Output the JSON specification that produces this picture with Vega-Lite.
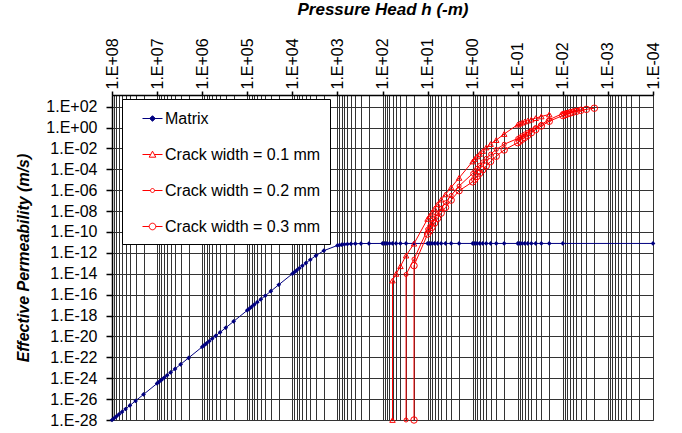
{
"$schema": "https://vega.github.io/schema/vega-lite/v6.json",
"width": 541, "height": 325,
"autosize": {"type": "none"},
"padding": {"left": 112, "top": 95, "right": 29, "bottom": 13},
"background": "white",
"config": {"view": {"stroke": "#808080", "strokeWidth": 1}, "font": "Liberation Sans",
  "axis": {"labelFont": "Liberation Sans", "titleFont": "Liberation Sans", "labelColor": "black", "titleColor": "black"}},
"data": {"values": [
{"series":"Matrix","h":1e8,"K":1e-28},{"series":"Matrix","h":9e7,"K":1.445e-28},{"series":"Matrix","h":8e7,"K":2.18e-28},{"series":"Matrix","h":7e7,"K":3.48e-28},{"series":"Matrix","h":6e7,"K":5.97e-28},{"series":"Matrix","h":5e7,"K":1.132e-27},{"series":"Matrix","h":4e7,"K":2.47e-27},{"series":"Matrix","h":3e7,"K":6.77e-27},{"series":"Matrix","h":2e7,"K":2.79e-26},
{"series":"Matrix","h":1e7,"K":3.16e-25},{"series":"Matrix","h":9e6,"K":4.57e-25},{"series":"Matrix","h":8e6,"K":6.9e-25},{"series":"Matrix","h":7e6,"K":1.1e-24},{"series":"Matrix","h":6e6,"K":1.89e-24},{"series":"Matrix","h":5e6,"K":3.58e-24},{"series":"Matrix","h":4e6,"K":7.82e-24},{"series":"Matrix","h":3e6,"K":2.14e-23},{"series":"Matrix","h":2e6,"K":8.84e-23},
{"series":"Matrix","h":1e6,"K":1e-21},{"series":"Matrix","h":9e5,"K":1.445e-21},{"series":"Matrix","h":8e5,"K":2.18e-21},{"series":"Matrix","h":7e5,"K":3.48e-21},{"series":"Matrix","h":6e5,"K":5.97e-21},{"series":"Matrix","h":5e5,"K":1.132e-20},{"series":"Matrix","h":4e5,"K":2.47e-20},{"series":"Matrix","h":3e5,"K":6.77e-20},{"series":"Matrix","h":2e5,"K":2.79e-19},
{"series":"Matrix","h":1e5,"K":3.16e-18},{"series":"Matrix","h":9e4,"K":4.57e-18},{"series":"Matrix","h":8e4,"K":6.9e-18},{"series":"Matrix","h":7e4,"K":1.1e-17},{"series":"Matrix","h":6e4,"K":1.89e-17},{"series":"Matrix","h":5e4,"K":3.58e-17},{"series":"Matrix","h":4e4,"K":7.82e-17},{"series":"Matrix","h":3e4,"K":2.14e-16},{"series":"Matrix","h":2e4,"K":8.83e-16},
{"series":"Matrix","h":1e4,"K":9.89e-15},{"series":"Matrix","h":9e3,"K":1.425e-14},{"series":"Matrix","h":8e3,"K":2.14e-14},{"series":"Matrix","h":7e3,"K":3.39e-14},{"series":"Matrix","h":6e3,"K":5.73e-14},{"series":"Matrix","h":5e3,"K":1.06e-13},{"series":"Matrix","h":4e3,"K":2.21e-13},{"series":"Matrix","h":3e3,"K":5.42e-13},{"series":"Matrix","h":2e3,"K":1.63e-12},
{"series":"Matrix","h":1e3,"K":5.12e-12},{"series":"Matrix","h":900,"K":5.61e-12},{"series":"Matrix","h":800,"K":6.09e-12},{"series":"Matrix","h":700,"K":6.55e-12},{"series":"Matrix","h":600,"K":6.95e-12},{"series":"Matrix","h":500,"K":7.31e-12},{"series":"Matrix","h":400,"K":7.59e-12},{"series":"Matrix","h":300,"K":7.8e-12},{"series":"Matrix","h":200,"K":7.92e-12},
{"series":"Matrix","h":100,"K":7.99e-12},{"series":"Matrix","h":90,"K":8e-12},{"series":"Matrix","h":80,"K":8e-12},{"series":"Matrix","h":70,"K":8e-12},{"series":"Matrix","h":60,"K":8e-12},{"series":"Matrix","h":50,"K":8e-12},{"series":"Matrix","h":40,"K":8e-12},{"series":"Matrix","h":30,"K":8e-12},{"series":"Matrix","h":20,"K":8e-12},
{"series":"Matrix","h":10,"K":8e-12},{"series":"Matrix","h":9,"K":8e-12},{"series":"Matrix","h":8,"K":8e-12},{"series":"Matrix","h":7,"K":8e-12},{"series":"Matrix","h":6,"K":8e-12},{"series":"Matrix","h":5,"K":8e-12},{"series":"Matrix","h":4,"K":8e-12},{"series":"Matrix","h":3,"K":8e-12},{"series":"Matrix","h":2,"K":8e-12},
{"series":"Matrix","h":1,"K":8e-12},{"series":"Matrix","h":0.9,"K":8e-12},{"series":"Matrix","h":0.8,"K":8e-12},{"series":"Matrix","h":0.7,"K":8e-12},{"series":"Matrix","h":0.6,"K":8e-12},{"series":"Matrix","h":0.5,"K":8e-12},{"series":"Matrix","h":0.4,"K":8e-12},{"series":"Matrix","h":0.3,"K":8e-12},{"series":"Matrix","h":0.2,"K":8e-12},
{"series":"Matrix","h":0.1,"K":8e-12},{"series":"Matrix","h":0.09,"K":8e-12},{"series":"Matrix","h":0.08,"K":8e-12},{"series":"Matrix","h":0.07,"K":8e-12},{"series":"Matrix","h":0.06,"K":8e-12},{"series":"Matrix","h":0.05,"K":8e-12},{"series":"Matrix","h":0.04,"K":8e-12},{"series":"Matrix","h":0.03,"K":8e-12},{"series":"Matrix","h":0.02,"K":8e-12},
{"series":"Matrix","h":0.01,"K":8e-12},{"series":"Matrix","h":0.0001,"K":8e-12},

{"series":"Crack width = 0.1 mm","h":60,"K":1e-28},{"series":"Crack width = 0.1 mm","h":60,"K":2.24e-15},{"series":"Crack width = 0.1 mm","h":50,"K":9.77e-15},{"series":"Crack width = 0.1 mm","h":40,"K":5.25e-14},{"series":"Crack width = 0.1 mm","h":30,"K":5.5e-13},{"series":"Crack width = 0.1 mm","h":20,"K":7.59e-12},
{"series":"Crack width = 0.1 mm","h":10,"K":1.78e-9},{"series":"Crack width = 0.1 mm","h":9,"K":3.39e-9},{"series":"Crack width = 0.1 mm","h":8,"K":7.24e-9},{"series":"Crack width = 0.1 mm","h":7,"K":1.74e-8},{"series":"Crack width = 0.1 mm","h":6,"K":4.47e-8},{"series":"Crack width = 0.1 mm","h":5,"K":1.26e-7},{"series":"Crack width = 0.1 mm","h":4,"K":3.98e-7},{"series":"Crack width = 0.1 mm","h":3,"K":1.86e-6},{"series":"Crack width = 0.1 mm","h":2,"K":1.51e-5},
{"series":"Crack width = 0.1 mm","h":1,"K":5.62e-4},{"series":"Crack width = 0.1 mm","h":0.9,"K":9.77e-4},{"series":"Crack width = 0.1 mm","h":0.8,"K":1.7e-3},{"series":"Crack width = 0.1 mm","h":0.7,"K":2.95e-3},{"series":"Crack width = 0.1 mm","h":0.6,"K":5.62e-3},{"series":"Crack width = 0.1 mm","h":0.5,"K":1.23e-2},{"series":"Crack width = 0.1 mm","h":0.4,"K":2.63e-2},{"series":"Crack width = 0.1 mm","h":0.3,"K":6.31e-2},{"series":"Crack width = 0.1 mm","h":0.2,"K":0.24},
{"series":"Crack width = 0.1 mm","h":0.1,"K":1.91},{"series":"Crack width = 0.1 mm","h":0.09,"K":2.4},{"series":"Crack width = 0.1 mm","h":0.08,"K":2.95},{"series":"Crack width = 0.1 mm","h":0.07,"K":3.72},{"series":"Crack width = 0.1 mm","h":0.06,"K":4.57},{"series":"Crack width = 0.1 mm","h":0.05,"K":5.75},{"series":"Crack width = 0.1 mm","h":0.04,"K":7.94},{"series":"Crack width = 0.1 mm","h":0.03,"K":11.5},{"series":"Crack width = 0.1 mm","h":0.02,"K":17.8},

{"series":"Crack width = 0.2 mm","h":30,"K":1e-28},{"series":"Crack width = 0.2 mm","h":30,"K":8.51e-15},{"series":"Crack width = 0.2 mm","h":20,"K":2.51e-13},
{"series":"Crack width = 0.2 mm","h":10,"K":1.78e-10},{"series":"Crack width = 0.2 mm","h":9,"K":3.55e-10},{"series":"Crack width = 0.2 mm","h":8,"K":7.94e-10},{"series":"Crack width = 0.2 mm","h":7,"K":2.0e-9},{"series":"Crack width = 0.2 mm","h":6,"K":5.62e-9},{"series":"Crack width = 0.2 mm","h":5,"K":1.78e-8},{"series":"Crack width = 0.2 mm","h":4,"K":6.31e-8},{"series":"Crack width = 0.2 mm","h":3,"K":3.16e-7},{"series":"Crack width = 0.2 mm","h":2,"K":2.51e-6},
{"series":"Crack width = 0.2 mm","h":1,"K":3.98e-5},{"series":"Crack width = 0.2 mm","h":0.9,"K":7.08e-5},{"series":"Crack width = 0.2 mm","h":0.8,"K":1.26e-4},{"series":"Crack width = 0.2 mm","h":0.7,"K":2.4e-4},{"series":"Crack width = 0.2 mm","h":0.6,"K":5.01e-4},{"series":"Crack width = 0.2 mm","h":0.5,"K":1.12e-3},{"series":"Crack width = 0.2 mm","h":0.4,"K":2.82e-3},{"series":"Crack width = 0.2 mm","h":0.3,"K":7.94e-3},{"series":"Crack width = 0.2 mm","h":0.2,"K":2.51e-2},
{"series":"Crack width = 0.2 mm","h":0.1,"K":8.91e-2},{"series":"Crack width = 0.2 mm","h":0.09,"K":0.12},{"series":"Crack width = 0.2 mm","h":0.08,"K":0.166},{"series":"Crack width = 0.2 mm","h":0.07,"K":0.24},{"series":"Crack width = 0.2 mm","h":0.06,"K":0.355},{"series":"Crack width = 0.2 mm","h":0.05,"K":0.562},{"series":"Crack width = 0.2 mm","h":0.04,"K":1.0},{"series":"Crack width = 0.2 mm","h":0.03,"K":2.0},{"series":"Crack width = 0.2 mm","h":0.02,"K":5.62},
{"series":"Crack width = 0.2 mm","h":0.01,"K":22.4},{"series":"Crack width = 0.2 mm","h":0.009,"K":25.1},{"series":"Crack width = 0.2 mm","h":0.008,"K":28.8},{"series":"Crack width = 0.2 mm","h":0.007,"K":33.1},{"series":"Crack width = 0.2 mm","h":0.006,"K":38.0},{"series":"Crack width = 0.2 mm","h":0.005,"K":44.7},{"series":"Crack width = 0.2 mm","h":0.004,"K":52.5},

{"series":"Crack width = 0.3 mm","h":20,"K":1e-28},{"series":"Crack width = 0.3 mm","h":20,"K":6.03e-14},
{"series":"Crack width = 0.3 mm","h":10,"K":6.31e-11},{"series":"Crack width = 0.3 mm","h":9,"K":1.26e-10},{"series":"Crack width = 0.3 mm","h":8,"K":2.82e-10},{"series":"Crack width = 0.3 mm","h":7,"K":7.08e-10},{"series":"Crack width = 0.3 mm","h":6,"K":2.0e-9},{"series":"Crack width = 0.3 mm","h":5,"K":6.31e-9},{"series":"Crack width = 0.3 mm","h":4,"K":2.24e-8},{"series":"Crack width = 0.3 mm","h":3,"K":1.12e-7},{"series":"Crack width = 0.3 mm","h":2,"K":8.91e-7},
{"series":"Crack width = 0.3 mm","h":1,"K":6.31e-6},{"series":"Crack width = 0.3 mm","h":0.9,"K":1.12e-5},{"series":"Crack width = 0.3 mm","h":0.8,"K":2.09e-5},{"series":"Crack width = 0.3 mm","h":0.7,"K":4.17e-5},{"series":"Crack width = 0.3 mm","h":0.6,"K":8.91e-5},{"series":"Crack width = 0.3 mm","h":0.5,"K":2.09e-4},{"series":"Crack width = 0.3 mm","h":0.4,"K":5.62e-4},{"series":"Crack width = 0.3 mm","h":0.3,"K":1.78e-3},{"series":"Crack width = 0.3 mm","h":0.2,"K":7.08e-3},
{"series":"Crack width = 0.3 mm","h":0.1,"K":3.55e-2},{"series":"Crack width = 0.3 mm","h":0.09,"K":5.01e-2},{"series":"Crack width = 0.3 mm","h":0.08,"K":7.41e-2},{"series":"Crack width = 0.3 mm","h":0.07,"K":0.112},{"series":"Crack width = 0.3 mm","h":0.06,"K":0.178},{"series":"Crack width = 0.3 mm","h":0.05,"K":0.316},{"series":"Crack width = 0.3 mm","h":0.04,"K":0.631},{"series":"Crack width = 0.3 mm","h":0.03,"K":1.41},{"series":"Crack width = 0.3 mm","h":0.02,"K":3.98},
{"series":"Crack width = 0.3 mm","h":0.01,"K":14.1},{"series":"Crack width = 0.3 mm","h":0.009,"K":16.6},{"series":"Crack width = 0.3 mm","h":0.008,"K":20.0},{"series":"Crack width = 0.3 mm","h":0.007,"K":24.0},{"series":"Crack width = 0.3 mm","h":0.006,"K":28.8},{"series":"Crack width = 0.3 mm","h":0.005,"K":35.5},{"series":"Crack width = 0.3 mm","h":0.004,"K":43.7},{"series":"Crack width = 0.3 mm","h":0.003,"K":55.0},{"series":"Crack width = 0.3 mm","h":0.002,"K":70.8}
]},
"encoding": {
  "x": {"field": "h", "type": "quantitative",
    "scale": {"type": "log", "domain": [0.0001, 100000000], "reverse": true, "nice": false},
    "axis": {"orient": "top", "title": "Pressure Head h (-m)",
      "values": [0.0001,0.0002,0.0003,0.0004,0.0005,0.0006,0.0007,0.0008,0.0009,0.001,0.002,0.003,0.004,0.005,0.006,0.007,0.008,0.009,0.01,0.02,0.03,0.04,0.05,0.06,0.07,0.08,0.09,0.1,0.2,0.3,0.4,0.5,0.6,0.7,0.8,0.9,1,2,3,4,5,6,7,8,9,10,20,30,40,50,60,70,80,90,100,200,300,400,500,600,700,800,900,1000,2000,3000,4000,5000,6000,7000,8000,9000,10000,20000,30000,40000,50000,60000,70000,80000,90000,100000,200000,300000,400000,500000,600000,700000,800000,900000,1000000,2000000,3000000,4000000,5000000,6000000,7000000,8000000,9000000,10000000,20000000,30000000,40000000,50000000,60000000,70000000,80000000,90000000,100000000],
      "labelExpr": "abs(log(datum.value)/LN10 - round(log(datum.value)/LN10)) < 0.001 ? '1.E' + (round(log(datum.value)/LN10) < 0 ? '-' : '+') + (abs(round(log(datum.value)/LN10)) < 10 ? '0' : '') + abs(round(log(datum.value)/LN10)) : ''",
      "labelAngle": -90, "labelAlign": "left", "labelBaseline": "middle", "labelFontSize": 16, "labelPadding": 2,
      "labelOverlap": false, "labelBound": false, "labelFlush": false,
      "tickSize": 4, "tickColor": "black", "tickWidth": 1.5,
      "tickOpacity": {"condition": {"test": "abs(log(datum.value)/LN10 - round(log(datum.value)/LN10)) < 0.001", "value": 1}, "value": 0},
      "domainColor": "black", "domainWidth": 1.5,
      "grid": true, "gridColor": "#333333", "gridWidth": 1, "gridOpacity": 1,
      "titleFontSize": 17, "titleFontWeight": "bold", "titleFontStyle": "italic", "titlePadding": 19}},
  "y": {"field": "K", "type": "quantitative",
    "scale": {"type": "log", "domain": [1e-28, 1300], "nice": false},
    "axis": {"title": "Effective Permeability (m/s)",
      "values": [1e-28,1e-26,1e-24,1e-22,1e-20,1e-18,1e-16,1e-14,1e-12,1e-10,1e-8,1e-6,1e-4,1e-2,1,100],
      "labelExpr": "'1.E' + (round(log(datum.value)/LN10) < 0 ? '-' : '+') + (abs(round(log(datum.value)/LN10)) < 10 ? '0' : '') + abs(round(log(datum.value)/LN10))",
      "labelFontSize": 16, "labelPadding": 9, "labelOverlap": false, "labelFlush": false,
      "tickSize": 6, "tickColor": "black", "tickWidth": 1.5,
      "domainColor": "black", "domainWidth": 1.5,
      "grid": true, "gridColor": "#333333", "gridWidth": 1,
      "titleFontSize": 16, "titleFontWeight": "bold", "titleFontStyle": "italic", "titlePadding": 14}}
},
"layer": [
  {"mark": {"type": "line", "strokeWidth": 1},
   "encoding": {
     "color": {"field": "series", "type": "nominal",
       "scale": {"domain": ["Crack width = 0.1 mm","Crack width = 0.2 mm","Crack width = 0.3 mm","Matrix"], "range": ["#ff0000","#ff0000","#ff0000","#000080"]},
       "legend": null},
     "order": {"value": null}}},
  {"transform": [{"filter": "datum.series == 'Matrix'"}],
   "mark": {"type": "point", "shape": "diamond", "filled": true, "color": "#000080", "size": 22, "opacity": 1}},
  {"transform": [{"filter": "datum.series == 'Crack width = 0.1 mm'"}],
   "mark": {"type": "point", "shape": "triangle-up", "filled": false, "color": "#ff0000", "size": 30, "strokeWidth": 1, "opacity": 1}},
  {"transform": [{"filter": "datum.series == 'Crack width = 0.2 mm'"}],
   "mark": {"type": "point", "shape": "circle", "filled": false, "color": "#ff0000", "size": 16, "strokeWidth": 1, "opacity": 1}},
  {"transform": [{"filter": "datum.series == 'Crack width = 0.3 mm'"}],
   "mark": {"type": "point", "shape": "circle", "filled": false, "color": "#ff0000", "size": 42, "strokeWidth": 1, "opacity": 1}},
  {"mark": {"type": "point", "size": 0, "opacity": 1, "strokeWidth": 1},
   "encoding": {
     "shape": {"field": "series", "type": "nominal",
       "scale": {"domain": ["Matrix","Crack width = 0.1 mm","Crack width = 0.2 mm","Crack width = 0.3 mm"],
         "range": ["M-1,0H1M0,-0.28L0.28,0L0,0.28L-0.28,0Z",
                   "M-1,0H-0.18M0.18,0H1M0,-0.33L0.33,0.27L-0.33,0.27Z",
                   "M-1,0H-0.2M0.2,0H1M-0.2,0A0.2,0.2,0,1,0,0.2,0A0.2,0.2,0,1,0,-0.2,0Z",
                   "M-1,0H-0.33M0.33,0H1M-0.33,0A0.33,0.33,0,1,0,0.33,0A0.33,0.33,0,1,0,-0.33,0Z"]},
       "legend": {"title": null, "orient": "none", "legendX": 10, "legendY": 4, "padding": 9, "fillColor": "white", "strokeColor": "black", "symbolSize": 400, "symbolStrokeWidth": 1, "symbolOffset": 11, "labelOffset": 2, "labelFontSize": 16, "labelFont": "Liberation Sans", "labelColor": "black", "rowPadding": 17, "labelLimit": 400, "labelExpr": "datum.label + '\u00a0\u00a0\u00a0\u00a0\u00a0'"}},
     "stroke": {"field": "series", "type": "nominal",
       "scale": {"domain": ["Matrix","Crack width = 0.1 mm","Crack width = 0.2 mm","Crack width = 0.3 mm"], "range": ["#000080","#ff0000","#ff0000","#ff0000"]},
       "legend": {"title": null, "orient": "none", "legendX": 10, "legendY": 4, "padding": 9, "fillColor": "white", "strokeColor": "black", "symbolSize": 400, "symbolStrokeWidth": 1, "symbolOffset": 11, "labelOffset": 2, "labelFontSize": 16, "labelFont": "Liberation Sans", "labelColor": "black", "rowPadding": 17, "labelLimit": 400, "labelExpr": "datum.label + '\u00a0\u00a0\u00a0\u00a0\u00a0'"}},
     "fill": {"field": "series", "type": "nominal",
       "scale": {"domain": ["Matrix","Crack width = 0.1 mm","Crack width = 0.2 mm","Crack width = 0.3 mm"], "range": ["#000080","#ffffff","#ffffff","#ffffff"]},
       "legend": {"title": null, "orient": "none", "legendX": 10, "legendY": 4, "padding": 9, "fillColor": "white", "strokeColor": "black", "symbolSize": 400, "symbolStrokeWidth": 1, "symbolOffset": 11, "labelOffset": 2, "labelFontSize": 16, "labelFont": "Liberation Sans", "labelColor": "black", "rowPadding": 17, "labelLimit": 400, "labelExpr": "datum.label + '\u00a0\u00a0\u00a0\u00a0\u00a0'"}}
   }}
]
}
